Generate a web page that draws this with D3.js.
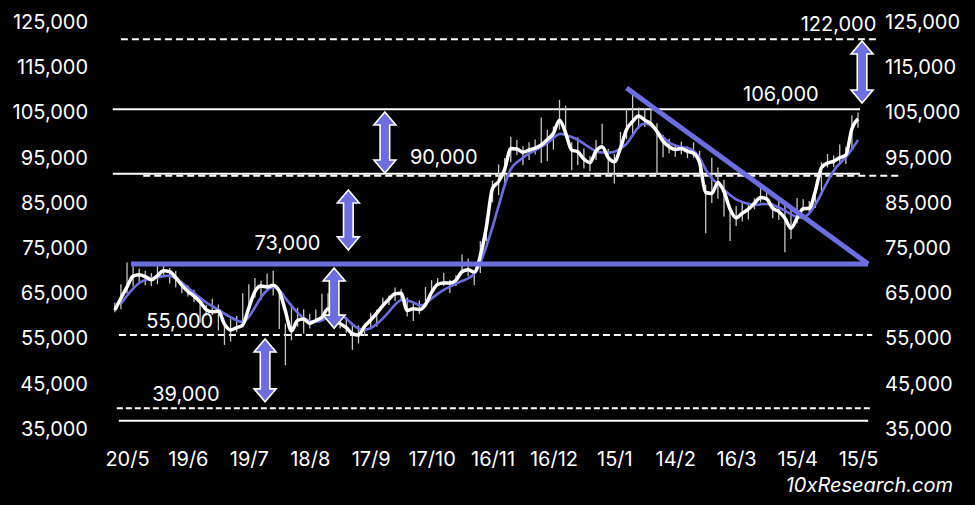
<!DOCTYPE html>
<html><head><meta charset="utf-8">
<script src="https://cdn.jsdelivr.net/npm/d3@7"></script>
<style>
html,body{margin:0;padding:0;background:#000;}
svg{display:block;}
</style></head><body>
<svg id="c" width="975" height="505"></svg>
<script>
// ---------------- DATA ----------------
const startDate = "2024-05-14";   // first sample
const stepDays = 3;               // one sample every 3 days

// thick white line (smoothed price)
const priceSmooth = [61300,63900,66400,68800,69100,68700,68000,68900,70000,69800,
68500,66800,65400,64400,63100,61400,60900,61100,58200,56900,
57400,58000,61800,65400,66600,66400,66800,65500,61100,56700,
59000,59300,58400,59000,59700,61600,59300,58300,57400,56100,
55800,57700,59100,60600,62300,63700,64900,65000,61200,61600,
61400,62500,65200,67000,67300,67300,67900,69800,70200,69700,
73300,79700,88200,89700,92400,97000,96900,96200,96700,97100,
97800,99000,100400,103300,100500,96700,96300,94700,93900,96500,
97400,95000,94100,97100,101200,103000,104200,103300,102500,100800,
98600,97400,96800,97000,96400,96000,93900,87300,87100,89500,
87500,83600,81700,82700,83600,84900,86200,85900,83800,83100,
81600,79400,81600,83700,83800,87600,92800,93800,94200,95000,
95600,101400,103600];

// blue moving average line
const priceMA = [null,62700,64500,66100,67400,68000,68300,68600,68800,69000,
68400,67400,66200,65100,64000,62900,62200,61400,60500,59700,
59000,58400,59600,61900,64200,65800,66600,65900,63900,62200,
60700,59400,58800,58600,59000,59700,60200,60200,59500,58100,
57100,56900,57200,58200,59400,60900,62600,63800,63400,63100,
62200,62500,63900,64900,65800,66500,67200,67700,68300,69000,
71400,75400,79500,84300,89100,92900,94000,95000,96000,96600,
97400,98200,99400,100500,100000,99600,99000,98100,97200,96300,
96100,96100,96200,97000,97800,100000,102000,102800,102200,100900,
99500,98200,97700,97300,97200,96700,95200,92200,90300,89200,
87900,86700,85700,85200,84800,84500,84700,84800,84600,84000,
83300,82400,81800,81600,82500,84500,87100,89800,92200,93800,
95000,96800,98900];

// thin grey range marks (high / low)
const rangeHigh = [63000,67000,71800,71000,70500,70000,69500,71300,71600,70600,
70000,67800,66800,65800,63500,62500,63800,62500,58900,59400,
60000,65000,67000,68400,67800,69400,70000,65800,58300,62700,
61800,61500,60500,61400,64900,65000,63200,60000,59800,58000,
57900,58300,60700,61400,64000,64500,66300,66000,64100,63000,
63400,66400,67900,68400,69500,68000,69000,73600,72700,70100,
76600,81800,89900,93500,94900,99600,98900,97500,98400,99000,
103900,101200,101900,107800,106500,98400,99500,97000,95300,98900,
102500,96900,95800,100700,106000,109000,106100,106000,105800,102600,
100000,99200,98000,98500,97500,98400,96500,89000,95000,92800,
90100,84000,84300,85300,85000,86000,88700,88000,84900,85600,
84700,83500,86100,85800,85400,88500,94000,95800,95500,97900,
97400,104300,105000];
const rangeLow = [60800,61500,65000,66500,67500,66800,66600,67000,68800,67200,
66300,65000,64300,63100,58500,60000,60200,56800,53600,54300,
56500,57500,61000,64000,63500,65500,64500,57100,49100,54600,
57600,56100,57200,58600,59000,62000,57900,57200,56300,52500,
53900,55600,57500,57600,61800,62400,63300,63800,59900,58900,
60400,62000,65100,66700,66600,65100,66600,69500,68800,66800,
69500,76500,85100,86700,89400,94000,95600,93400,94500,95700,
93800,94200,96800,101200,99300,92200,93400,92600,92000,94500,
97900,91200,89300,96500,99100,100100,101400,101800,102200,91200,
95100,96000,95200,95700,94900,95000,91400,78300,85000,85900,
82000,76600,79900,80900,81300,83600,85100,85500,81600,81200,
74100,77000,80500,83200,83000,83900,87100,92800,92900,93400,
93600,96800,101600];

const xTickDates = ["2024-05-20","2024-06-19","2024-07-19","2024-08-18","2024-09-17",
  "2024-10-17","2024-11-16","2024-12-16","2025-01-15","2025-02-14","2025-03-16",
  "2025-04-15","2025-05-15"];
const yTicks = [35000,45000,55000,65000,75000,85000,95000,105000,115000,125000];

// horizontal level lines: value, start date, end date, kind
const levelValues = [121200,105700,91450,91000,71500,55800,39600,36800];
const levelFrom   = ["2024-05-17","2024-05-13","2024-05-13","2024-05-28","2024-05-22","2024-05-16","2024-05-15","2024-05-16"];
const levelTo     = ["2025-05-24","2025-05-16","2025-05-16","2025-06-04","2025-05-20","2025-05-22","2025-05-22","2025-05-20"];
const levelKinds  = ["dash","solid","solid","dash","blue","dash","dash2","solid"];

// level labels
const labelTexts  = ["122,000","106,000","90,000","73,000","55,000","39,000"];
const labelDates  = ["2025-05-24","2025-04-07","2024-10-23","2024-08-07","2024-06-15","2024-06-18"];
const labelValues = [124450,109000,95150,76100,58900,42700];
const labelAnchor = ["end","middle","middle","middle","middle","middle"];

// downward trend line
const trendDates  = ["2025-01-21","2025-05-20"];
const trendValues = [110400,71500];

// double-headed arrows: date, low value, high value
const arrowDates = ["2024-09-24","2024-09-06","2024-08-30","2024-07-27","2025-05-17"];
const arrowLow   = [91600,74600,57300,41000,107100];
const arrowHigh  = [105100,87850,70600,54900,120800];

// ---------------- DRAW ----------------
const BLUE = "#6d6de0";
const FONT = "Inter, 'Open Sans', sans-serif";
const parse = d3.utcParse("%Y-%m-%d");
const dates = d3.range(priceSmooth.length).map(i => d3.utcDay.offset(parse(startDate), i * stepDays));
const svg = d3.select("#c");
svg.append("rect").attr("width", 975).attr("height", 505).attr("fill", "#000");

const x = d3.scaleUtc()
  .domain([parse(xTickDates[0]), parse(xTickDates[xTickDates.length - 1])])
  .range([127, 858]);
const y = d3.scaleLinear().domain([35000, 125000]).range([429, 22]);

// axes
function styleAxis(g) {
  g.select(".domain").remove();
  g.attr("font-size", 20).attr("font-family", FONT).attr("color", "#fff");
}
svg.append("g").attr("transform", "translate(96,0)")
  .call(d3.axisLeft(y).tickValues(yTicks).tickSize(0).tickPadding(8).tickFormat(d3.format(",")))
  .call(styleAxis);
svg.append("g").attr("transform", "translate(877,0)")
  .call(d3.axisRight(y).tickValues(yTicks).tickSize(0).tickPadding(8).tickFormat(d3.format(",")))
  .call(styleAxis);
svg.append("g").attr("transform", "translate(0,444)")
  .call(d3.axisBottom(x).tickValues(xTickDates.map(parse)).tickSize(0).tickPadding(8)
    .tickFormat(d3.utcFormat("%-d/%-m")))
  .call(styleAxis);

// level lines
const kindStyle = {
  solid: {stroke: "#fff", w: 2, dash: null},
  dash:  {stroke: "#fff", w: 2, dash: "7,4"},
  dash2: {stroke: "#fff", w: 2, dash: "6,3"},
  blue:  {stroke: BLUE, w: 5, dash: null}
};
const levels = levelValues.map((v, i) => ({v, from: parse(levelFrom[i]), to: parse(levelTo[i]), kind: levelKinds[i]}));
svg.append("g").selectAll("line").data(levels.filter(d => d.kind !== "blue")).join("line")
  .attr("x1", d => x(d.from)).attr("x2", d => x(d.to))
  .attr("y1", d => y(d.v)).attr("y2", d => y(d.v))
  .attr("stroke", d => kindStyle[d.kind].stroke)
  .attr("stroke-width", d => kindStyle[d.kind].w)
  .attr("stroke-dasharray", d => kindStyle[d.kind].dash);

// grey ranges
svg.append("g").selectAll("line").data(dates).join("line")
  .attr("x1", d => x(d)).attr("x2", d => x(d))
  .attr("y1", (d, i) => y(rangeLow[i])).attr("y2", (d, i) => y(rangeHigh[i]))
  .attr("stroke", "#c4c4c4").attr("stroke-width", 1.3);

// blue MA
const maLine = d3.line().defined(d => d[1] != null).x(d => x(d[0])).y(d => y(d[1])).curve(d3.curveBasis);
svg.append("path").datum(dates.map((d, i) => [d, priceMA[i]]))
  .attr("d", maLine).attr("fill", "none").attr("stroke", BLUE).attr("stroke-width", 2.6);

// white price line
const pLine = d3.line().x(d => x(d[0])).y(d => y(d[1])).curve(d3.curveMonotoneX);
svg.append("path").datum(dates.map((d, i) => [d, priceSmooth[i]]))
  .attr("d", pLine).attr("fill", "none").attr("stroke", "#fff").attr("stroke-width", 3.5)
  .attr("stroke-linejoin", "round");

// blue annotation lines
svg.append("g").selectAll("line").data(levels.filter(d => d.kind === "blue")).join("line")
  .attr("x1", d => x(d.from)).attr("x2", d => x(d.to))
  .attr("y1", d => y(d.v)).attr("y2", d => y(d.v))
  .attr("stroke", BLUE).attr("stroke-width", 5);
svg.append("line")
  .attr("x1", x(parse(trendDates[0]))).attr("y1", y(trendValues[0]))
  .attr("x2", x(parse(trendDates[1]))).attr("y2", y(trendValues[1]))
  .attr("stroke", BLUE).attr("stroke-width", 5);

// arrows
function arrowPath(cx, yt, yb) {
  const h = 13, hw = 11, sw = 4.8;
  return `M${cx},${yt}L${cx+hw},${yt+h}L${cx+sw},${yt+h}L${cx+sw},${yb-h}L${cx+hw},${yb-h}L${cx},${yb}` +
         `L${cx-hw},${yb-h}L${cx-sw},${yb-h}L${cx-sw},${yt+h}L${cx-hw},${yt+h}Z`;
}
svg.append("g").selectAll("path").data(arrowDates).join("path")
  .attr("d", (d, i) => arrowPath(x(parse(d)), y(arrowHigh[i]), y(arrowLow[i])))
  .attr("fill", BLUE).attr("stroke", "#fff").attr("stroke-width", 1.6).attr("stroke-linejoin", "miter");

// labels
svg.append("g").selectAll("text").data(labelTexts).join("text")
  .attr("x", (d, i) => x(parse(labelDates[i])))
  .attr("y", (d, i) => y(labelValues[i]))
  .attr("dy", "0.35em")
  .attr("text-anchor", (d, i) => labelAnchor[i])
  .attr("fill", "#fff").attr("font-size", 20).attr("font-family", FONT)
  .text(d => d);

// watermark
svg.append("text").attr("x", 953).attr("y", 485).attr("dy", "0.35em")
  .attr("text-anchor", "end").attr("fill", "#fff").attr("font-size", 20)
  .attr("font-style", "italic").attr("font-family", FONT).text("10xResearch.com");
</script>
</body></html>
